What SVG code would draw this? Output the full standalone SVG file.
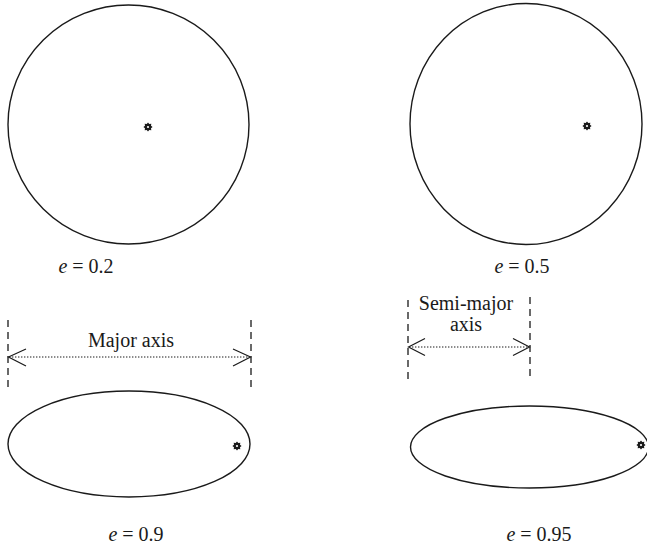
<svg xmlns="http://www.w3.org/2000/svg" width="647" height="546" viewBox="0 0 647 546">
<style>
.orbit{fill:none;stroke:#1a1a1a;stroke-width:1.4}
.dash{fill:none;stroke:#1a1a1a;stroke-width:1.3;stroke-dasharray:7 5}
.dot{fill:none;stroke:#1a1a1a;stroke-width:1.1;stroke-dasharray:1.4 1.6}
.head{fill:none;stroke:#1a1a1a;stroke-width:1.2}
.lbl{font-family:"Liberation Serif","Times New Roman",serif;font-size:20px;fill:#1a1a1a}
.it{font-style:italic}
</style>
<defs>
<g id="sun">
<path d="M0,-4.6 L1.3,-3 L3.3,-3.3 L3,-1.3 L4.6,0 L3,1.3 L3.3,3.3 L1.3,3 L0,4.6 L-1.3,3 L-3.3,3.3 L-3,1.3 L-4.6,0 L-3,-1.3 L-3.3,-3.3 L-1.3,-3 Z" fill="#1a1a1a"/>
<circle r="1.1" fill="#fff"/>
</g>
</defs>
<rect width="647" height="546" fill="#fff"/>

<g id="orbit-e02">
<ellipse class="orbit" cx="128.5" cy="124.5" rx="120.5" ry="119.5"/>
<use href="#sun" x="148" y="127"/>
<text class="lbl" x="86" y="273" text-anchor="middle"><tspan class="it">e</tspan> = 0.2</text>
</g>

<g id="orbit-e05">
<ellipse class="orbit" cx="526" cy="124" rx="116" ry="120.5"/>
<use href="#sun" x="587" y="126"/>
<text class="lbl" x="522" y="273" text-anchor="middle"><tspan class="it">e</tspan> = 0.5</text>
</g>

<g id="orbit-e09">
<ellipse class="orbit" cx="129" cy="444" rx="121" ry="53"/>
<use href="#sun" x="237" y="446"/>
<text class="lbl" x="136" y="541" text-anchor="middle"><tspan class="it">e</tspan> = 0.9</text>
</g>

<g id="orbit-e095">
<ellipse class="orbit" cx="529.5" cy="447" rx="119" ry="41"/>
<use href="#sun" x="641" y="445"/>
<text class="lbl" x="539" y="541" text-anchor="middle"><tspan class="it">e</tspan> = 0.95</text>
</g>

<g id="major-axis-label">
<text class="lbl" x="131" y="347" text-anchor="middle" font-size="21">Major axis</text>
</g>

<g id="semi-major-label">
<text class="lbl" x="466" y="310" text-anchor="middle">Semi-major</text>
<text class="lbl" x="466" y="331" text-anchor="middle">axis</text>
</g>

<g id="connectors">
<line class="dash" x1="8" y1="320" x2="8" y2="391"/>
<line class="dash" x1="251" y1="320" x2="251" y2="391"/>
<line class="dot" x1="9" y1="357" x2="250" y2="357"/>
<polyline class="head" points="26,349 8.5,357 26,366"/>
<polyline class="head" points="233,349 250.5,357 233,366"/>

<line class="dash" x1="408" y1="300" x2="408" y2="383"/>
<line class="dash" x1="530" y1="297" x2="530" y2="378"/>
<line class="dot" x1="409" y1="347" x2="529" y2="347"/>
<polyline class="head" points="425,338.5 408.5,347 425,355.5"/>
<polyline class="head" points="513,338.5 529.5,347 513,355.5"/>
</g>
</svg>
